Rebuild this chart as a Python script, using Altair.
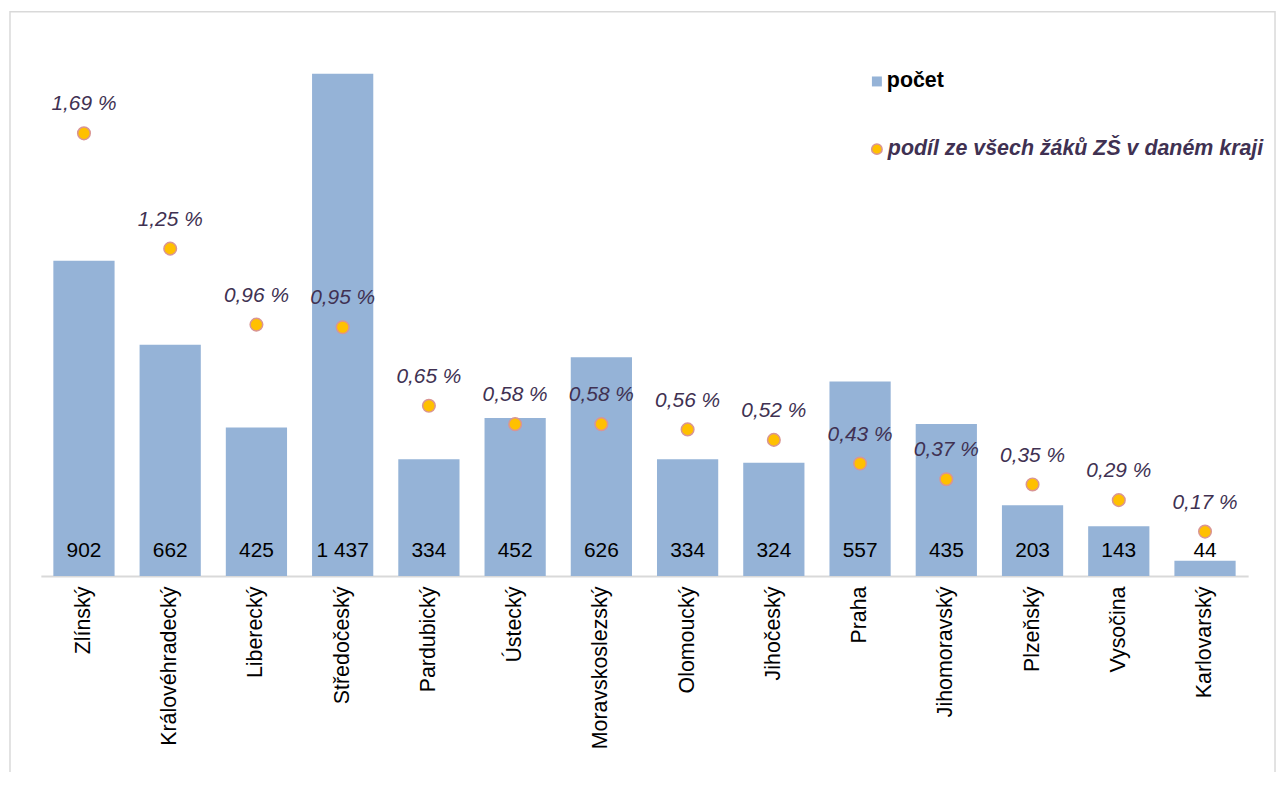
import altair as alt
import pandas as pd

regions = ["Zlínský", "Královéhradecký", "Liberecký", "Středočeský", "Pardubický",
           "Ústecký", "Moravskoslezský", "Olomoucký", "Jihočeský", "Praha",
           "Jihomoravský", "Plzeňský", "Vysočina", "Karlovarský"]
counts = [902, 662, 425, 1437, 334, 452, 626, 334, 324, 557, 435, 203, 143, 44]
shares = [1.69, 1.25, 0.96, 0.95, 0.65, 0.58, 0.58, 0.56, 0.52, 0.43, 0.37, 0.35, 0.29, 0.17]
legend_labels = ["počet", "podíl ze všech žáků ZŠ v daném kraji"]

FONT = "Liberation Sans"
W, H = 1213, 562

df = pd.DataFrame({
    "kraj": regions,
    "pocet": counts,
    "podil": shares,
    "pocet_lbl": [f"{c:,}".replace(",", " ") for c in counts],
    "podil_lbl": [f"{s:.2f} %".replace(".", ",") for s in shares],
})

xenc = alt.X("kraj:N", sort=regions,
             scale=alt.Scale(paddingInner=0.29, paddingOuter=0.145),
             axis=alt.Axis(title=None, labelAngle=-90, labelFont=FONT, labelFontSize=21.5,
                           labelColor="#000000", ticks=False, labelPadding=10,
                           domainColor="#d9d9d9", domainWidth=2, grid=False))
y_count = alt.Y("pocet:Q", scale=alt.Scale(domain=[0, 1600]), axis=None)
y_share = alt.Y("podil:Q", scale=alt.Scale(domain=[0, 2.135]), axis=None)

base = alt.Chart(df)

border = alt.Chart(pd.DataFrame({"k": [0]})).mark_rect(
    fill=None, stroke="#d9d9d9", strokeWidth=1.5
).encode(x=alt.value(-31), x2=alt.value(1240), y=alt.value(-5), y2=alt.value(900))

bars = base.mark_bar(color="#95b3d7").encode(x=xenc, y=y_count)
bar_text = base.mark_text(font=FONT, fontSize=21, color="#000000", dy=-25,
                          baseline="middle").encode(
    x=alt.X("kraj:N", sort=regions), y=alt.datum(0), text="pocet_lbl:N")
bar_layer = alt.layer(bars, bar_text)

points = base.mark_point(filled=True, size=160, fill="#ffc000", stroke="#d99594",
                         strokeWidth=1.5, opacity=1).encode(
    x=alt.X("kraj:N", sort=regions), y=y_share)
pt_text = base.mark_text(font=FONT, fontSize=21, fontStyle="italic", color="#403152",
                         dy=-29, baseline="middle").encode(
    x=alt.X("kraj:N", sort=regions), y=y_share, text="podil_lbl:N")
pt_layer = alt.layer(points, pt_text)

leg_sq = alt.Chart(pd.DataFrame({"t": [legend_labels[0]]})).mark_square(
    size=100, color="#95b3d7", opacity=1).encode(x=alt.value(840), y=alt.value(65))
leg_sq_t = alt.Chart(pd.DataFrame({"t": [legend_labels[0]]})).mark_text(
    font=FONT, fontSize=21.5, fontWeight="bold", color="#000000", align="left",
    baseline="middle").encode(x=alt.value(850), y=alt.value(65), text="t:N")
leg_pt = alt.Chart(pd.DataFrame({"t": [legend_labels[1]]})).mark_point(
    filled=True, size=110, fill="#ffc000", stroke="#d99594", strokeWidth=1.5,
    opacity=1).encode(x=alt.value(840), y=alt.value(133))
leg_pt_t = alt.Chart(pd.DataFrame({"t": [legend_labels[1]]})).mark_text(
    font=FONT, fontSize=21.5, fontWeight="bold", fontStyle="italic", color="#403152",
    align="left", baseline="middle").encode(x=alt.value(851), y=alt.value(133), text="t:N")

chart = alt.layer(
    border, bar_layer, pt_layer, leg_sq, leg_sq_t, leg_pt, leg_pt_t
).resolve_scale(y="independent").properties(
    width=W, height=H,
    autosize=alt.AutoSizeParams(type="none"),
    padding={"left": 33, "top": 7, "right": 29, "bottom": 195},
).configure_view(stroke=None)

chart.save("out.html", embed_options={"renderer": "svg", "actions": False})
